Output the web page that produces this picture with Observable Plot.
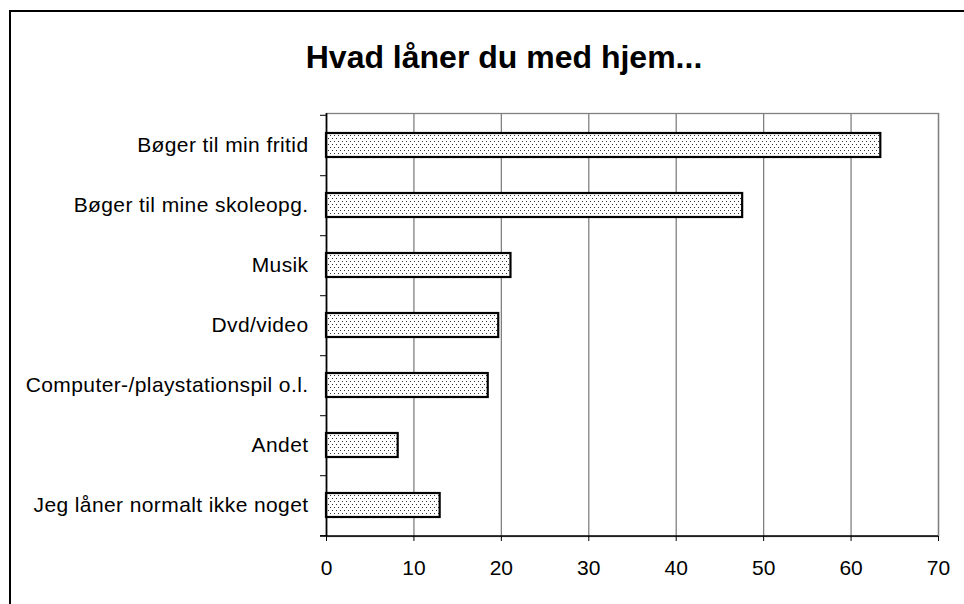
<!DOCTYPE html>
<html><head><meta charset="utf-8">
<script src="https://cdn.jsdelivr.net/npm/d3@7"></script>
<script src="https://cdn.jsdelivr.net/npm/@observablehq/plot@0.6"></script>
<style>
html,body{margin:0;padding:0;background:#fff;}
#wrap{position:relative;width:964px;height:604px;overflow:hidden;font-family:"Liberation Sans",Arial,sans-serif;}
#frame{position:absolute;left:9px;top:10px;width:1100px;height:800px;border-left:2px solid #000;border-top:2px solid #000;}
#title{position:absolute;left:0;top:41px;width:1008px;text-align:center;font-weight:bold;font-size:32px;line-height:32px;color:#000;}
#chart{position:absolute;left:0;top:0;}
</style>
</head><body>
<div id="wrap"><div id="frame"></div><div id="title">Hvad låner du med hjem...</div><div id="chart"></div></div>
<script>
const categories = ["Bøger til min fritid","Bøger til mine skoleopg.","Musik","Dvd/video","Computer-/playstationspil o.l.","Andet","Jeg låner normalt ikke noget"];
const values = [63.4, 47.6, 21.1, 19.7, 18.5, 8.2, 13.0];
const xTicks = [0, 10, 20, 30, 40, 50, 60, 70];

const data = categories.map((c, i) => ({cat: c, value: values[i]}));
const W = 964, H = 604, mL = 326, mR = 26, mT = 113, mB = 68;
const step = (H - mT - mB) / categories.length;

const defs = () => {
  const d = d3.create("svg:defs");
  const p = d.append("pattern").attr("id", "dots").attr("patternUnits", "userSpaceOnUse")
    .attr("width", 4).attr("height", 6);
  p.append("rect").attr("width", 4).attr("height", 6).attr("fill", "#fff");
  p.append("rect").attr("x", 0).attr("y", 0).attr("width", 1).attr("height", 1).attr("fill", "#333");
  p.append("rect").attr("x", 2).attr("y", 3).attr("width", 1).attr("height", 1).attr("fill", "#333");
  return d.node();
};

const chart = Plot.plot({
  width: W, height: H,
  marginLeft: mL, marginRight: mR, marginTop: mT, marginBottom: mB,
  style: {fontFamily: "'Liberation Sans', Arial, sans-serif", fontSize: "21px", color: "#000", background: "transparent"},
  x: {domain: [0, 70], ticks: xTicks},
  y: {domain: categories, paddingInner: 0.6, paddingOuter: 0.3, label: null},
  marks: [
    defs,
    Plot.gridX(xTicks, {stroke: "#808080", strokeOpacity: 1, strokeWidth: 1.3}),
    Plot.frame({stroke: "#808080", strokeWidth: 1.3}),
    Plot.barX(data, {x: "value", y: "cat", fill: "url(#dots)", stroke: "#000", strokeWidth: 2.2}),
    Plot.ruleX([0], {stroke: "#000", strokeWidth: 1.6}),
    Plot.axisX(xTicks, {tickSize: 5, tickPadding: 19, fontSize: 21, stroke: "#000", label: null}),
    Plot.axisY({tickSize: 0, tickPadding: 18, fontSize: 21, label: null}),
    Plot.axisY({tickSize: 6, tickFormat: () => "", dy: step / 2, stroke: "#000", label: null}),
    Plot.axisY([categories[0]], {tickSize: 6, tickFormat: () => "", dy: -step / 2, stroke: "#000", label: null})
  ]
});

const xs = chart.scale("x"), ys = chart.scale("y");
const yBottom = Math.max(...ys.range), xLeft = Math.min(...xs.range) - 6, xRight = Math.max(...xs.range);
d3.select(chart).append("line")
  .attr("x1", xLeft).attr("x2", xRight).attr("y1", yBottom).attr("y2", yBottom)
  .attr("stroke", "#000").attr("stroke-width", 1.6);
d3.select(chart).selectAll("g[aria-label='y-axis tick label'] text").style("letter-spacing", "0.4px");

document.getElementById("chart").appendChild(chart);
</script>
</body></html>
